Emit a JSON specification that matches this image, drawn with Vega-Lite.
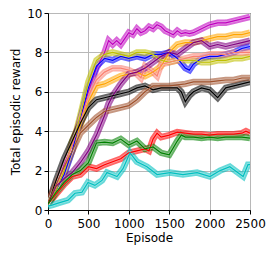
{
  "$schema": "https://vega.github.io/schema/vega-lite/v6.json",
  "width": 202,
  "height": 197,
  "autosize": "none",
  "padding": {"left": 48, "top": 13, "right": 24, "bottom": 45},
  "config": {
    "font": "DejaVu Sans",
    "view": {"stroke": "#000", "strokeWidth": 1},
    "axis": {"labelFont": "DejaVu Sans", "titleFont": "DejaVu Sans", "labelFontSize": 12, "titleFontSize": 12, "titleFontWeight": "normal", "labelColor": "#000", "titleColor": "#000", "domainColor": "#000", "tickColor": "#000", "tickSize": 4, "gridColor": "#b8b8b8", "gridWidth": 1, "labelOverlap": false, "labelBound": false, "labelFlush": false, "format": "d"}
  },
  "data": {"values": [
    {"s":"M","x":0,"y":0.3},{"s":"M","x":100,"y":1.2},{"s":"M","x":200,"y":2.3},{"s":"M","x":300,"y":3.3},{"s":"M","x":400,"y":4.6},{"s":"M","x":500,"y":6.0},{"s":"M","x":600,"y":7.2},{"s":"M","x":650,"y":7.6},{"s":"M","x":700,"y":8.0},{"s":"M","x":750,"y":8.6},{"s":"M","x":800,"y":8.4},{"s":"M","x":850,"y":8.6},{"s":"M","x":900,"y":8.4},{"s":"M","x":950,"y":8.7},{"s":"M","x":1000,"y":9.0},{"s":"M","x":1050,"y":8.9},{"s":"M","x":1100,"y":9.2},{"s":"M","x":1150,"y":9.0},{"s":"M","x":1200,"y":9.1},{"s":"M","x":1250,"y":9.3},{"s":"M","x":1300,"y":9.2},{"s":"M","x":1350,"y":9.4},{"s":"M","x":1400,"y":9.3},{"s":"M","x":1450,"y":9.1},{"s":"M","x":1500,"y":9.0},{"s":"M","x":1550,"y":8.9},{"s":"M","x":1600,"y":9.1},{"s":"M","x":1650,"y":8.95},{"s":"M","x":1700,"y":9.0},{"s":"M","x":1750,"y":8.95},{"s":"M","x":1800,"y":9.0},{"s":"M","x":1850,"y":9.1},{"s":"M","x":1900,"y":9.2},{"s":"M","x":1950,"y":9.3},{"s":"M","x":2000,"y":9.4},{"s":"M","x":2100,"y":9.5},{"s":"M","x":2200,"y":9.5},{"s":"M","x":2300,"y":9.6},{"s":"M","x":2400,"y":9.7},{"s":"M","x":2500,"y":9.8},
    {"s":"O","x":0,"y":0.3},{"s":"O","x":100,"y":1.0},{"s":"O","x":200,"y":1.9},{"s":"O","x":300,"y":3.0},{"s":"O","x":400,"y":4.3},{"s":"O","x":500,"y":5.5},{"s":"O","x":600,"y":6.3},{"s":"O","x":700,"y":6.4},{"s":"O","x":800,"y":6.6},{"s":"O","x":900,"y":6.8},{"s":"O","x":1000,"y":6.9},{"s":"O","x":1100,"y":7.0},{"s":"O","x":1200,"y":6.8},{"s":"O","x":1300,"y":7.0},{"s":"O","x":1400,"y":7.3},{"s":"O","x":1500,"y":8.0},{"s":"O","x":1600,"y":8.4},{"s":"O","x":1700,"y":8.5},{"s":"O","x":1800,"y":8.5},{"s":"O","x":1900,"y":8.6},{"s":"O","x":2000,"y":8.7},{"s":"O","x":2100,"y":8.8},{"s":"O","x":2200,"y":8.8},{"s":"O","x":2300,"y":8.9},{"s":"O","x":2400,"y":8.9},{"s":"O","x":2500,"y":9.0},
    {"s":"B","x":0,"y":0.3},{"s":"B","x":100,"y":1.0},{"s":"B","x":200,"y":1.8},{"s":"B","x":300,"y":3.0},{"s":"B","x":400,"y":4.6},{"s":"B","x":500,"y":6.2},{"s":"B","x":600,"y":7.3},{"s":"B","x":700,"y":7.7},{"s":"B","x":800,"y":7.6},{"s":"B","x":900,"y":7.8},{"s":"B","x":1000,"y":7.7},{"s":"B","x":1100,"y":7.8},{"s":"B","x":1200,"y":7.7},{"s":"B","x":1300,"y":7.9},{"s":"B","x":1400,"y":7.9},{"s":"B","x":1500,"y":8.0},{"s":"B","x":1600,"y":7.7},{"s":"B","x":1700,"y":7.2},{"s":"B","x":1750,"y":7.1},{"s":"B","x":1800,"y":7.4},{"s":"B","x":1900,"y":7.7},{"s":"B","x":2000,"y":7.8},{"s":"B","x":2100,"y":7.8},{"s":"B","x":2200,"y":7.9},{"s":"B","x":2300,"y":8.0},{"s":"B","x":2400,"y":8.2},{"s":"B","x":2500,"y":8.3},
    {"s":"Y","x":0,"y":0.3},{"s":"Y","x":100,"y":1.0},{"s":"Y","x":200,"y":2.0},{"s":"Y","x":300,"y":3.5},{"s":"Y","x":350,"y":4.0},{"s":"Y","x":400,"y":4.8},{"s":"Y","x":500,"y":6.5},{"s":"Y","x":600,"y":7.6},{"s":"Y","x":700,"y":7.9},{"s":"Y","x":800,"y":8.0},{"s":"Y","x":900,"y":7.9},{"s":"Y","x":1000,"y":7.8},{"s":"Y","x":1100,"y":8.0},{"s":"Y","x":1200,"y":8.0},{"s":"Y","x":1300,"y":7.9},{"s":"Y","x":1400,"y":7.6},{"s":"Y","x":1500,"y":7.5},{"s":"Y","x":1600,"y":7.6},{"s":"Y","x":1700,"y":7.6},{"s":"Y","x":1800,"y":7.6},{"s":"Y","x":1900,"y":7.5},{"s":"Y","x":2000,"y":7.5},{"s":"Y","x":2100,"y":7.6},{"s":"Y","x":2200,"y":7.6},{"s":"Y","x":2300,"y":7.7},{"s":"Y","x":2400,"y":7.7},{"s":"Y","x":2500,"y":7.8},
    {"s":"S","x":0,"y":0.4},{"s":"S","x":100,"y":1.2},{"s":"S","x":200,"y":2.2},{"s":"S","x":300,"y":3.3},{"s":"S","x":400,"y":4.5},{"s":"S","x":500,"y":5.8},{"s":"S","x":600,"y":6.6},{"s":"S","x":700,"y":7.0},{"s":"S","x":800,"y":7.2},{"s":"S","x":900,"y":7.2},{"s":"S","x":1000,"y":7.1},{"s":"S","x":1100,"y":6.9},{"s":"S","x":1150,"y":6.7},{"s":"S","x":1200,"y":7.3},{"s":"S","x":1300,"y":7.0},{"s":"S","x":1350,"y":6.8},{"s":"S","x":1400,"y":7.4},{"s":"S","x":1500,"y":7.5},{"s":"S","x":1600,"y":7.6},{"s":"S","x":1700,"y":7.7},{"s":"S","x":1800,"y":7.8},{"s":"S","x":1900,"y":7.8},{"s":"S","x":2000,"y":7.9},{"s":"S","x":2100,"y":7.9},{"s":"S","x":2200,"y":7.9},{"s":"S","x":2300,"y":8.0},{"s":"S","x":2400,"y":8.0},{"s":"S","x":2500,"y":8.0},
    {"s":"P","x":0,"y":0.3},{"s":"P","x":100,"y":1.2},{"s":"P","x":200,"y":1.6},{"s":"P","x":300,"y":1.9},{"s":"P","x":400,"y":2.4},{"s":"P","x":500,"y":3.0},{"s":"P","x":600,"y":3.8},{"s":"P","x":700,"y":4.8},{"s":"P","x":750,"y":5.4},{"s":"P","x":800,"y":5.8},{"s":"P","x":900,"y":6.4},{"s":"P","x":1000,"y":6.9},{"s":"P","x":1100,"y":7.0},{"s":"P","x":1200,"y":7.2},{"s":"P","x":1300,"y":7.5},{"s":"P","x":1400,"y":7.8},{"s":"P","x":1500,"y":8.0},{"s":"P","x":1600,"y":7.9},{"s":"P","x":1700,"y":8.2},{"s":"P","x":1800,"y":8.5},{"s":"P","x":1900,"y":8.6},{"s":"P","x":2000,"y":8.3},{"s":"P","x":2100,"y":8.4},{"s":"P","x":2200,"y":8.3},{"s":"P","x":2300,"y":8.4},{"s":"P","x":2400,"y":8.5},{"s":"P","x":2500,"y":8.6},
    {"s":"K","x":0,"y":0.3},{"s":"K","x":100,"y":1.5},{"s":"K","x":200,"y":2.6},{"s":"K","x":300,"y":3.5},{"s":"K","x":400,"y":4.4},{"s":"K","x":500,"y":5.2},{"s":"K","x":600,"y":5.6},{"s":"K","x":700,"y":5.7},{"s":"K","x":800,"y":5.8},{"s":"K","x":900,"y":5.9},{"s":"K","x":1000,"y":6.0},{"s":"K","x":1100,"y":6.2},{"s":"K","x":1200,"y":6.3},{"s":"K","x":1300,"y":6.1},{"s":"K","x":1400,"y":6.2},{"s":"K","x":1500,"y":6.2},{"s":"K","x":1600,"y":6.2},{"s":"K","x":1650,"y":6.0},{"s":"K","x":1700,"y":5.5},{"s":"K","x":1750,"y":5.8},{"s":"K","x":1800,"y":6.0},{"s":"K","x":1900,"y":6.2},{"s":"K","x":2000,"y":6.1},{"s":"K","x":2100,"y":5.7},{"s":"K","x":2200,"y":6.2},{"s":"K","x":2300,"y":6.3},{"s":"K","x":2400,"y":6.4},{"s":"K","x":2500,"y":6.5},
    {"s":"N","x":0,"y":0.4},{"s":"N","x":100,"y":1.3},{"s":"N","x":200,"y":2.2},{"s":"N","x":300,"y":3.0},{"s":"N","x":400,"y":3.9},{"s":"N","x":500,"y":4.3},{"s":"N","x":600,"y":4.7},{"s":"N","x":700,"y":5.0},{"s":"N","x":800,"y":5.1},{"s":"N","x":900,"y":5.2},{"s":"N","x":1000,"y":5.3},{"s":"N","x":1100,"y":5.6},{"s":"N","x":1200,"y":6.0},{"s":"N","x":1300,"y":6.3},{"s":"N","x":1400,"y":6.3},{"s":"N","x":1500,"y":6.3},{"s":"N","x":1600,"y":6.35},{"s":"N","x":1700,"y":6.4},{"s":"N","x":1800,"y":6.5},{"s":"N","x":1900,"y":6.5},{"s":"N","x":2000,"y":6.5},{"s":"N","x":2100,"y":6.55},{"s":"N","x":2200,"y":6.6},{"s":"N","x":2300,"y":6.6},{"s":"N","x":2400,"y":6.7},{"s":"N","x":2500,"y":6.7},
    {"s":"R","x":0,"y":0.3},{"s":"R","x":100,"y":0.8},{"s":"R","x":200,"y":1.3},{"s":"R","x":300,"y":1.7},{"s":"R","x":400,"y":1.8},{"s":"R","x":500,"y":2.2},{"s":"R","x":600,"y":2.1},{"s":"R","x":700,"y":2.3},{"s":"R","x":800,"y":2.45},{"s":"R","x":900,"y":2.6},{"s":"R","x":1000,"y":2.9},{"s":"R","x":1100,"y":3.0},{"s":"R","x":1200,"y":3.1},{"s":"R","x":1250,"y":3.0},{"s":"R","x":1300,"y":3.6},{"s":"R","x":1350,"y":3.9},{"s":"R","x":1400,"y":3.7},{"s":"R","x":1500,"y":3.8},{"s":"R","x":1600,"y":3.95},{"s":"R","x":1700,"y":3.9},{"s":"R","x":1800,"y":3.85},{"s":"R","x":1900,"y":3.85},{"s":"R","x":2000,"y":3.8},{"s":"R","x":2100,"y":3.85},{"s":"R","x":2200,"y":3.85},{"s":"R","x":2300,"y":3.85},{"s":"R","x":2400,"y":3.9},{"s":"R","x":2450,"y":4.0},{"s":"R","x":2500,"y":3.9},
    {"s":"G","x":0,"y":0.3},{"s":"G","x":100,"y":0.9},{"s":"G","x":200,"y":1.4},{"s":"G","x":300,"y":1.8},{"s":"G","x":400,"y":2.0},{"s":"G","x":500,"y":2.4},{"s":"G","x":550,"y":2.9},{"s":"G","x":600,"y":3.4},{"s":"G","x":700,"y":3.45},{"s":"G","x":800,"y":3.4},{"s":"G","x":900,"y":3.6},{"s":"G","x":1000,"y":3.3},{"s":"G","x":1100,"y":3.5},{"s":"G","x":1200,"y":3.1},{"s":"G","x":1300,"y":3.2},{"s":"G","x":1400,"y":2.9},{"s":"G","x":1500,"y":2.8},{"s":"G","x":1600,"y":3.5},{"s":"G","x":1650,"y":3.8},{"s":"G","x":1700,"y":3.7},{"s":"G","x":1800,"y":3.7},{"s":"G","x":1900,"y":3.65},{"s":"G","x":2000,"y":3.7},{"s":"G","x":2100,"y":3.65},{"s":"G","x":2200,"y":3.7},{"s":"G","x":2300,"y":3.7},{"s":"G","x":2400,"y":3.7},{"s":"G","x":2500,"y":3.65},
    {"s":"C","x":0,"y":0.2},{"s":"C","x":50,"y":0.25},{"s":"C","x":124,"y":0.35},{"s":"C","x":248,"y":0.5},{"s":"C","x":334,"y":0.85},{"s":"C","x":420,"y":0.9},{"s":"C","x":495,"y":1.4},{"s":"C","x":580,"y":1.25},{"s":"C","x":668,"y":1.5},{"s":"C","x":730,"y":1.9},{"s":"C","x":792,"y":1.8},{"s":"C","x":854,"y":1.7},{"s":"C","x":928,"y":2.1},{"s":"C","x":1015,"y":2.9},{"s":"C","x":1100,"y":2.45},{"s":"C","x":1225,"y":2.2},{"s":"C","x":1350,"y":1.8},{"s":"C","x":1510,"y":1.9},{"s":"C","x":1670,"y":1.8},{"s":"C","x":1845,"y":1.9},{"s":"C","x":2005,"y":1.7},{"s":"C","x":2130,"y":2.0},{"s":"C","x":2250,"y":2.2},{"s":"C","x":2415,"y":1.7},{"s":"C","x":2475,"y":2.3},{"s":"C","x":2500,"y":2.3}
  ]},
  "encoding": {
    "x": {"field": "x", "type": "quantitative", "scale": {"domain": [0, 2500], "nice": false}, "axis": {"values": [0, 500, 1000, 1500, 2000, 2500], "title": "Episode", "titlePadding": 3, "labelPadding": 4}},
    "y": {"field": "y", "type": "quantitative", "scale": {"domain": [0, 10], "nice": false}, "axis": {"values": [0, 2, 4, 6, 8, 10], "title": "Total episodic reward", "titlePadding": 4, "labelPadding": 2}},
    "color": {"field": "s", "type": "nominal", "legend": null, "scale": {"domain": ["C","G","R","N","K","S","Y","B","O","P","M"], "range": ["#00bfbf","#008000","#ff0000","#a0522d","#000000","#fa8072","#bfbf00","#0000ff","#ffa500","#800080","#bf00bf"]}},
    "detail": {"field": "s"}
  },
  "layer": [
    {"mark": {"type": "line", "strokeWidth": 6.5, "opacity": 0.6, "clip": true}},
    {"mark": {"type": "line", "strokeWidth": 3, "opacity": 0.3, "clip": true}, "encoding": {"color": {"value": "#ffffff"}}},
    {"mark": {"type": "line", "strokeWidth": 1.2, "clip": true}}
  ]
}
